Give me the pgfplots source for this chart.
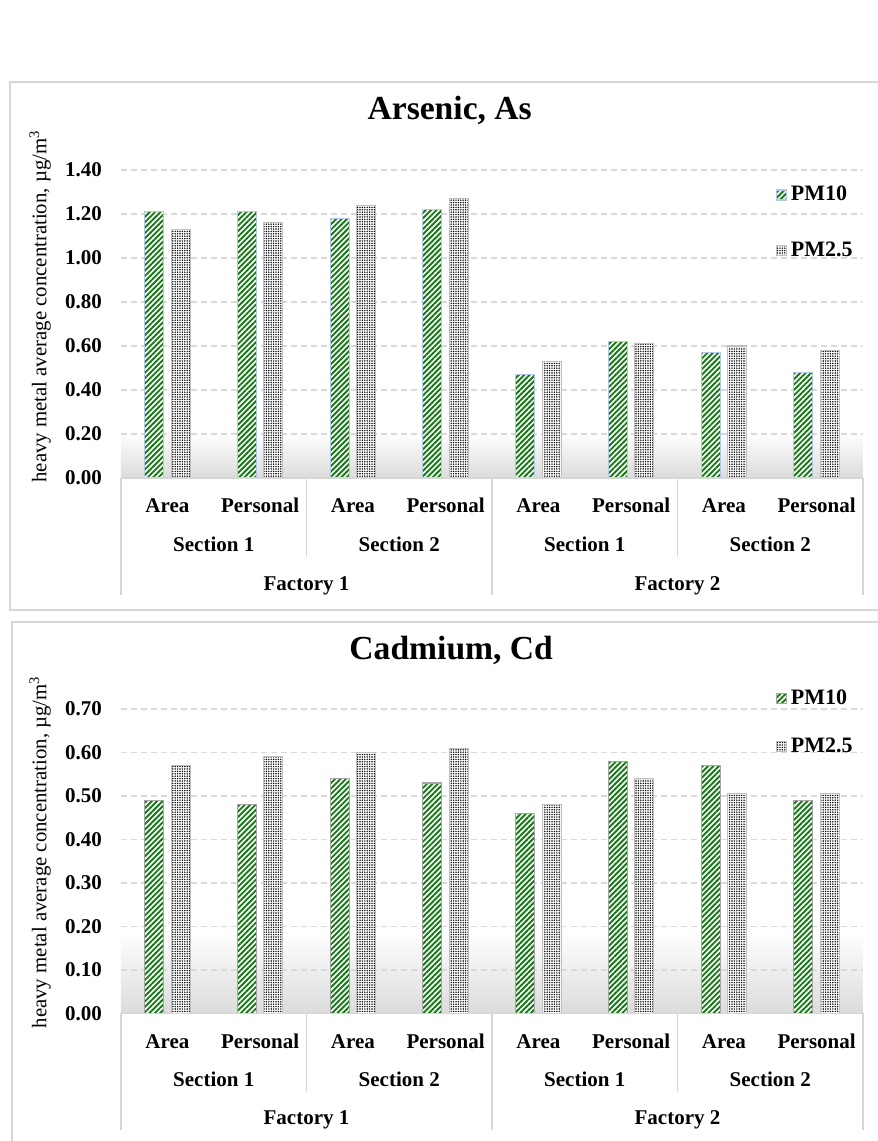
\documentclass[border=0pt]{standalone}
\usepackage{fontspec}
\setmainfont{Liberation Serif}
\usepackage{pgfplots}
\pgfplotsset{compat=1.18}
\usepackage{pgfplotstable}
\usetikzlibrary{patterns.meta}
\definecolor{pmgreen}{RGB}{20,120,20}
\definecolor{framegray}{RGB}{214,214,214}
\definecolor{gridgray}{RGB}{217,217,217}
\definecolor{bluebord}{RGB}{180,199,231}

\pgfdeclareverticalshading{bggradA}{100bp}{color(0bp)=(black!14); color(25bp)=(black!14); color(32.5bp)=(white); color(100bp)=(white)}
\pgfdeclareverticalshading{bggradB}{100bp}{color(0bp)=(black!14); color(25bp)=(black!14); color(38.5bp)=(white); color(100bp)=(white)}

\pgfplotstableread{
x pmten pmtwo
0 1.21 1.13
1 1.21 1.16
2 1.18 1.24
3 1.22 1.27
4 0.47 0.53
5 0.62 0.61
6 0.57 0.60
7 0.48 0.58
}\arsenic

\pgfplotstableread{
x pmten pmtwo
0 0.49 0.57
1 0.48 0.59
2 0.54 0.60
3 0.53 0.61
4 0.46 0.48
5 0.58 0.54
6 0.57 0.505
7 0.49 0.505
}\cadmium

\tikzset{
 catlines/.style={draw=framegray, line width=0.75pt},
 catfont/.style={font=\bfseries\fontsize{10.5}{12}\selectfont, anchor=base},
}

\pgfplotsset{
 mychart/.style={
  scale only axis, width=371pt,
  xmin=-0.5, xmax=7.5, ymin=0,
  clip=false,
  axis line style={draw=none}, major tick style={draw=none},
  ymajorgrids, grid style={gridgray, dash pattern=on 3pt off 2pt, line width=0.6pt},
  xtick={0,1,2,3,4,5,6,7},
  xticklabels={Area,Personal,Area,Personal,Area,Personal,Area,Personal},
  xticklabel style={anchor=base, yshift=-13pt, font=\bfseries\fontsize{10.5}{12}\selectfont},
  yticklabel style={font=\bfseries\fontsize{10.5}{12}\selectfont, xshift=-6pt,
    /pgf/number format/.cd, fixed, fixed zerofill, precision=2},
  /pgf/number format/assume math mode=true,
  ybar=3.75pt, bar width=9.5pt,
  ylabel={heavy metal average concentration, µg/m\textsuperscript{3}},
  ylabel style={font=\fontsize{10.4}{12}\selectfont, anchor=center},
  title style={font=\bfseries\fontsize{16.8}{20}\selectfont, anchor=center},
  legend style={draw=none, fill=none, font=\bfseries\fontsize{11}{13}\selectfont,
    anchor=north east, inner sep=0pt, cells={anchor=west}},
  legend image code/.code={\draw[#1] (0pt,-2.5pt) rectangle (5pt,2.5pt);},
 },
 pmtenstyle/.style={fill=white, draw=#1, line width=0.6pt,
   postaction={pattern={Lines[angle=45,distance=1.9pt,line width=0.95pt]}, pattern color=pmgreen}},
 pmtwostyle/.style={fill=white, draw=black!25, line width=0.6pt,
   postaction={pattern={Dots[distance=1.2pt,radius=0.4pt]}, pattern color=black}},
}

\begin{document}
\begin{tikzpicture}
\useasboundingbox (0,0) rectangle (439pt,570.5pt);

% ---------- Arsenic ----------
\begin{axis}[mychart,
  at={(60.5pt,331.5pt)}, anchor=south west,
  height=154pt, ymax=1.4,
  ytick={0,0.2,0.4,0.6,0.8,1.0,1.2,1.4},
  axis background/.style={shading=bggradA},
  title={Arsenic, As},
  title style={at={(axis description cs:0.443,1.156)}},
  ylabel style={at={(axis description cs:-0.109,0.557)}},
  legend style={at={(axis description cs:0.992,0.962)}, row sep=15pt},
]
\addplot[pmtenstyle=bluebord] table[x=x,y=pmten]{\arsenic};
\addplot[pmtwostyle] table[x=x,y=pmtwo]{\arsenic};
\legend{PM10,PM2.5}
\draw[catlines] (axis cs:-0.5,0) -- (axis cs:7.5,0);
\draw[catlines] (axis cs:-0.5,0) -- ([yshift=-58.5pt]axis cs:-0.5,0);
\draw[catlines] (axis cs:3.5,0) -- ([yshift=-58.5pt]axis cs:3.5,0);
\draw[catlines] (axis cs:7.5,0) -- ([yshift=-58.5pt]axis cs:7.5,0);
\draw[catlines] (axis cs:1.5,0) -- ([yshift=-39.5pt]axis cs:1.5,0);
\draw[catlines] (axis cs:5.5,0) -- ([yshift=-39.5pt]axis cs:5.5,0);
\node[catfont] at ([yshift=-37pt]axis cs:0.5,0) {Section 1};
\node[catfont] at ([yshift=-37pt]axis cs:2.5,0) {Section 2};
\node[catfont] at ([yshift=-37pt]axis cs:4.5,0) {Section 1};
\node[catfont] at ([yshift=-37pt]axis cs:6.5,0) {Section 2};
\node[catfont] at ([yshift=-56.5pt]axis cs:1.5,0) {Factory 1};
\node[catfont] at ([yshift=-56.5pt]axis cs:5.5,0) {Factory 2};
\end{axis}

% ---------- Cadmium ----------
\begin{axis}[mychart,
  at={(60.5pt,63.75pt)}, anchor=south west,
  height=152.25pt, ymax=0.7,
  ytick={0,0.1,0.2,0.3,0.4,0.5,0.6,0.7},
  axis background/.style={shading=bggradB},
  title={Cadmium, Cd},
  title style={at={(axis description cs:0.445,1.154)}},
  ylabel style={at={(axis description cs:-0.109,0.53)}},
  legend style={at={(axis description cs:0.992,1.077)}, row sep=11pt},
]
\addplot[pmtenstyle=black!35] table[x=x,y=pmten]{\cadmium};
\addplot[pmtwostyle] table[x=x,y=pmtwo]{\cadmium};
\legend{PM10,PM2.5}
\draw[catlines] (axis cs:-0.5,0) -- (axis cs:7.5,0);
\draw[catlines] (axis cs:-0.5,0) -- ([yshift=-58pt]axis cs:-0.5,0);
\draw[catlines] (axis cs:3.5,0) -- ([yshift=-58pt]axis cs:3.5,0);
\draw[catlines] (axis cs:7.5,0) -- ([yshift=-58pt]axis cs:7.5,0);
\draw[catlines] (axis cs:1.5,0) -- ([yshift=-39pt]axis cs:1.5,0);
\draw[catlines] (axis cs:5.5,0) -- ([yshift=-39pt]axis cs:5.5,0);
\node[catfont] at ([yshift=-36.5pt]axis cs:0.5,0) {Section 1};
\node[catfont] at ([yshift=-36.5pt]axis cs:2.5,0) {Section 2};
\node[catfont] at ([yshift=-36.5pt]axis cs:4.5,0) {Section 1};
\node[catfont] at ([yshift=-36.5pt]axis cs:6.5,0) {Section 2};
\node[catfont] at ([yshift=-55.5pt]axis cs:1.5,0) {Factory 1};
\node[catfont] at ([yshift=-55.5pt]axis cs:5.5,0) {Factory 2};
\end{axis}

% outer frames
\draw[framegray, line width=0.9pt] (5pt,529.5pt) rectangle (445pt,265.5pt);
\draw[framegray, line width=0.9pt] (6pt,259.5pt) rectangle (445pt,-5pt);
\end{tikzpicture}
\end{document}
